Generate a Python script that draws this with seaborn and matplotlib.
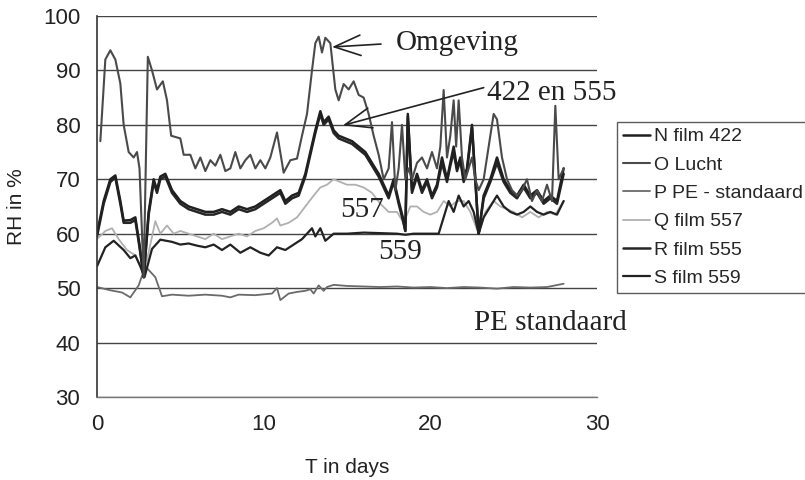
"""
RH over time for the film samples, ambient air and PE reference.
Grayscale line chart, values read off a scanned figure.
"""
import matplotlib
matplotlib.use("Agg")
import matplotlib.pyplot as plt
import seaborn as sns

sns.set_style("white")
plt.rcParams["font.family"] = ["Liberation Sans", "DejaVu Sans"]

# ---------------- data (T in days, RH in %) ----------------
t_lucht = [0.2, 0.5, 0.8, 1.1, 1.4, 1.6, 1.9, 2.2, 2.4, 2.55, 2.8, 3.05, 3.3, 3.6,
           3.95, 4.2, 4.45, 5.0, 5.2, 5.6, 5.9, 6.2, 6.5, 6.8, 7.1, 7.4, 7.7, 8.0,
           8.3, 8.6, 8.9, 9.2, 9.5, 9.8, 10.1, 10.4, 10.8, 11.2, 11.6, 12.0, 12.3,
           12.6, 12.9, 13.1, 13.3, 13.5, 13.7, 14.0, 14.3, 14.5, 14.8, 15.1, 15.4,
           15.7, 16.0, 16.3, 16.6, 16.9, 17.2, 17.5, 17.7, 17.9, 18.1, 18.3, 18.5,
           18.7, 18.9, 19.2, 19.5, 19.8, 20.1, 20.4, 20.6, 20.8, 21.0, 21.2, 21.4,
           21.55, 21.7, 21.9, 22.1, 22.3, 22.5, 22.7, 22.9, 23.2, 23.5, 23.8, 24.0,
           24.3, 24.6, 24.9, 25.2, 25.5, 25.8, 26.1, 26.4, 26.7, 27.0, 27.3, 27.5,
           27.7, 28.0]
rh_lucht = [77, 92, 93.7, 92, 87.6, 80, 75, 74, 75, 72, 52, 92.5, 90, 86.5,
            88, 84.5, 78, 77.5, 74.5, 74.5, 72, 74, 71.5, 73.5, 72.5, 74.5, 71.5, 72,
            75, 72, 73.5, 74.5, 72, 73.5, 72, 74, 78.6, 71.2, 73.5, 73.8, 78,
            82, 90, 95, 96.2, 93.3, 96, 95, 86.5, 84.5, 87.5, 86.5, 88,
            85.5, 85, 82, 78, 74.5, 70, 72, 80.5, 68, 72, 80, 70,
            72, 70, 73, 74, 72, 75, 72, 76, 86.4, 74, 78, 84.5,
            76, 84.5, 74, 70, 72, 74, 70, 68, 70, 76, 82, 81,
            74, 70, 68, 67, 68, 70, 66, 68, 66, 69, 66, 83.5,
            70, 72]

t_film422 = [0, 0.4, 0.8, 1.1, 1.4, 1.6, 2.0, 2.3, 2.55, 2.8, 3.1, 3.4, 3.6, 3.8,
             4.1, 4.5, 5.0, 5.5, 6.0, 6.5, 7.0, 7.5, 8.0, 8.5, 9.0, 9.5, 10.0,
             10.5, 11.0, 11.3, 11.7, 12.1, 12.5, 12.8, 13.1, 13.4, 13.6, 13.9,
             14.2, 14.5, 14.9, 15.3, 15.7, 16.1, 16.5, 16.9, 17.2, 17.5, 17.8,
             18.1, 18.35, 18.5, 18.65, 18.9, 19.2, 19.5, 19.8, 20.1, 20.4, 20.7,
             21.0, 21.2, 21.4, 21.6, 21.8, 22.0, 22.2, 22.5, 22.9, 23.2, 23.6,
             24.0, 24.4, 24.8, 25.2, 25.6, 26.0, 26.4, 26.8, 27.2, 27.6, 28.0]
rh_film422 = [60, 66, 70, 70.7, 66, 62.4, 62.5, 63, 58, 52, 64, 70, 68, 70.5,
              71, 68, 66, 65, 64.5, 64, 64, 64.5, 64, 65, 64.5, 65, 66,
              67, 68, 66, 67, 67.5, 71, 75, 79, 82.5, 80.5, 81.5,
              79, 78, 77.5, 77, 76, 75, 73, 71, 69, 67, 70,
              66, 63, 60.5, 82, 68, 71, 68, 70, 67, 69, 74,
              70, 73, 76, 72, 74, 70, 72, 80, 60, 67, 70,
              74, 70, 68, 67, 69, 67, 68, 66, 67, 66, 72]
rh_film555 = [59.5, 65.5, 69.5, 70.3, 65.5, 62.0, 62.0, 62.5, 57.5, 52, 63.5, 69.5, 67.5, 70,
              70.5, 67.5, 65.5, 64.5, 64, 63.5, 63.5, 64, 63.5, 64.5, 64, 64.5, 65.5,
              66.5, 67.5, 65.5, 66.5, 67, 70.5, 74.5, 78.5, 82, 80, 81,
              78.5, 77.5, 77, 76.5, 75.5, 74.5, 72.5, 70.5, 68.5, 66.5, 69.5,
              65.5, 62.5, 60.5, 81.5, 67.5, 70.5, 67.5, 69.5, 66.5, 68.5, 73,
              69.5, 72.5, 75, 71.5, 73.5, 69.5, 71.5, 79.5, 60, 66.5, 69.5,
              73, 69.5, 67.5, 66.5, 68.5, 66.5, 67.5, 65.5, 66.5, 65.5, 71]

t_film557 = [0, 0.5, 0.9, 1.3, 1.8, 2.3, 2.8, 3.2, 3.5, 3.8, 4.2, 4.6, 5.0, 5.5,
             6.0, 6.5, 7.0, 7.5, 8.0, 8.5, 9.0, 9.5, 10.0, 10.5, 10.8, 11.0, 11.5,
             12.0, 12.5, 13.0, 13.4, 13.8, 14.2, 14.6, 15.0, 15.5, 16.0, 16.5,
             17.0, 17.5, 18.0, 18.4, 18.8, 19.2, 19.6, 20.0, 20.4, 20.8, 21.2,
             21.6, 22.0, 22.4, 22.9, 23.3, 23.8, 24.2, 24.6, 25.0, 25.5, 26.0,
             26.5, 27.0, 27.5, 28.0]
rh_film557 = [59, 60.5, 61, 59, 57, 56, 52.5, 58, 62.3, 60, 61.5, 60, 60.5, 60,
              59.5, 59, 60, 59, 59.5, 60, 59.5, 60.5, 61, 62, 62.8, 61.5, 62,
              63, 65, 67, 68.5, 69, 70, 69.5, 69, 69, 68.5, 67.5,
              65.5, 64, 64, 62, 65, 65, 64, 63.5, 64, 66, 65,
              66, 66, 64, 60, 64, 66, 65, 64.5, 64, 63, 64,
              63, 64, 63.5, 66]

t_film559 = [0, 0.5, 1.0, 1.6, 2.0, 2.3, 2.6, 2.85, 3.3, 3.8, 4.5, 5.0, 5.5, 6.0,
             6.5, 7.0, 7.5, 8.0, 8.6, 9.2, 9.8, 10.3, 10.8, 11.3, 11.8, 12.3, 12.9,
             13.1, 13.4, 13.7, 14.2, 15.0, 16.0, 17.0, 18.0, 18.5, 19.0, 20.0,
             20.5, 20.8, 21.1, 21.4, 21.7, 22.0, 22.3, 22.6, 22.9, 23.2, 23.6,
             24.0, 24.4, 24.8, 25.2, 25.6, 26.0, 26.4, 26.8, 27.2, 27.6, 28.0]
rh_film559 = [54, 57.5, 58.7, 57, 55.5, 56, 54, 52, 57.2, 58.9, 58.5, 58, 58.2, 57.8,
              57.5, 58, 57, 58, 56.5, 57.5, 56.5, 56, 57.5, 57, 58, 59, 61,
              59.5, 61, 58.7, 60, 60, 60.2, 60.1, 60, 59.8, 60, 60,
              60, 63, 66, 64, 67, 65, 66, 64, 60, 63, 65,
              67, 65, 64, 63.5, 64, 65, 64, 63.5, 64, 63.5, 66]

t_pe = [0, 0.8, 1.5, 2.0, 2.5, 2.9, 3.5, 3.9, 4.5, 5.5, 6.5, 7.5, 8.0, 8.5, 9.5,
        10.5, 10.8, 11.0, 11.5, 12.0, 12.5, 12.8, 13.0, 13.3, 13.6, 13.8, 14.2,
        15, 16, 17, 18, 19, 20, 21, 22, 23, 24, 25, 26, 27, 28]
rh_pe = [50.2, 49.6, 49.2, 48.3, 50.5, 54, 52, 48.5, 48.8, 48.6, 48.8, 48.6, 48.3, 48.8, 48.7,
         49.0, 50, 47.8, 49, 49.3, 49.5, 49.8, 49, 50.5, 49.5, 50.2, 50.6,
         50.4, 50.3, 50.2, 50.3, 50.1, 50.2, 50.0, 50.2, 50.1, 49.9, 50.2, 50.1, 50.2, 50.8]

legend_labels = ["N film 422", "O Lucht", "P PE - standaard",
                 "Q film 557", "R film 555", "S film 559"]

# ---------------- figure ----------------
fig = plt.figure(figsize=(8.05, 4.8), dpi=100)
ax = fig.add_axes([0.1205, 0.173, 0.6211, 0.7937])

ax.set_xlim(0, 30)
ax.set_ylim(30, 100)
ax.set_yticks(range(30, 101, 10))
ax.set_xticks([0, 10, 20, 30])
ax.yaxis.grid(True, color="#444444", linewidth=1.0)
ax.set_axisbelow(True)

series = [
    (t_pe, rh_pe, "#6a6a6a", 1.3, legend_labels[2]),
    (t_film557, rh_film557, "#b0b0b0", 1.3, legend_labels[3]),
    (t_film559, rh_film559, "#222222", 1.6, legend_labels[5]),
    (t_film422, rh_film555, "#262626", 1.8, legend_labels[4]),
    (t_film422, rh_film422, "#202020", 1.8, legend_labels[0]),
    (t_lucht, rh_lucht, "#4a4a4a", 1.5, legend_labels[1]),
]
handles = {}
for t, rh, col, lw, lab in series:
    sns.lineplot(x=t, y=rh, ax=ax, color=col, linewidth=lw, label=lab,
                 sort=False, estimator=None)
    handles[lab] = ax.get_lines()[-1]
if ax.get_legend() is not None:
    ax.get_legend().remove()

for side in ["top", "right"]:
    ax.spines[side].set_visible(False)
ax.spines["left"].set_color("#333333")
ax.spines["left"].set_linewidth(1.2)
ax.spines["bottom"].set_color("#777777")
ax.spines["bottom"].set_linewidth(1.0)
ax.tick_params(axis="both", direction="out", length=5, width=1,
               color="#444444", labelsize=16, labelcolor="#222222")
ax.tick_params(axis="y", pad=7)
ax.tick_params(axis="x", pad=7)

ax.set_xlabel("T in days", fontsize=15, color="#222222", labelpad=17)
ax.set_ylabel("RH in %", fontsize=15, color="#222222", labelpad=12)

# ---------------- annotations ----------------
serif = ["Liberation Serif", "DejaVu Serif"]
arrow = dict(arrowstyle="->, head_length=0.9, head_width=0.35",
             color="#222222", lw=1.2, shrinkA=8, shrinkB=0)
ax.annotate("Omgeving", xy=(14.1, 94.3), xytext=(17.9, 95),
            ha="left", va="center", fontsize=21, family=serif, color="#222222",
            arrowprops=dict(arrow, relpos=(0, 0.5)))
ax.annotate("422 en 555", xy=(14.75, 79.9), xytext=(23.4, 85.8),
            ha="left", va="center", fontsize=21, family=serif, color="#222222",
            arrowprops=dict(arrow, relpos=(0, 0.75), shrinkA=0))
ax.text(14.6, 64.3, "557", ha="left", va="center", fontsize=21,
        family=serif, color="#222222")
ax.text(16.9, 56.7, "559", ha="left", va="center", fontsize=21,
        family=serif, color="#222222")
ax.text(22.6, 43.5, "PE standaard", ha="left", va="center", fontsize=21,
        family=serif, color="#222222")

# legend sits at the right edge and runs off the figure, like the original
fig.legend([handles[l] for l in legend_labels], legend_labels,
           loc="upper left", bbox_to_anchor=(617 / 805, 1 - 122 / 480),
           fontsize=14, frameon=True, fancybox=False, edgecolor="#333333",
           handlelength=1.4, handletextpad=0.2, borderpad=0.3,
           labelspacing=0.55, borderaxespad=0)

fig.savefig("out.png", dpi=100)
